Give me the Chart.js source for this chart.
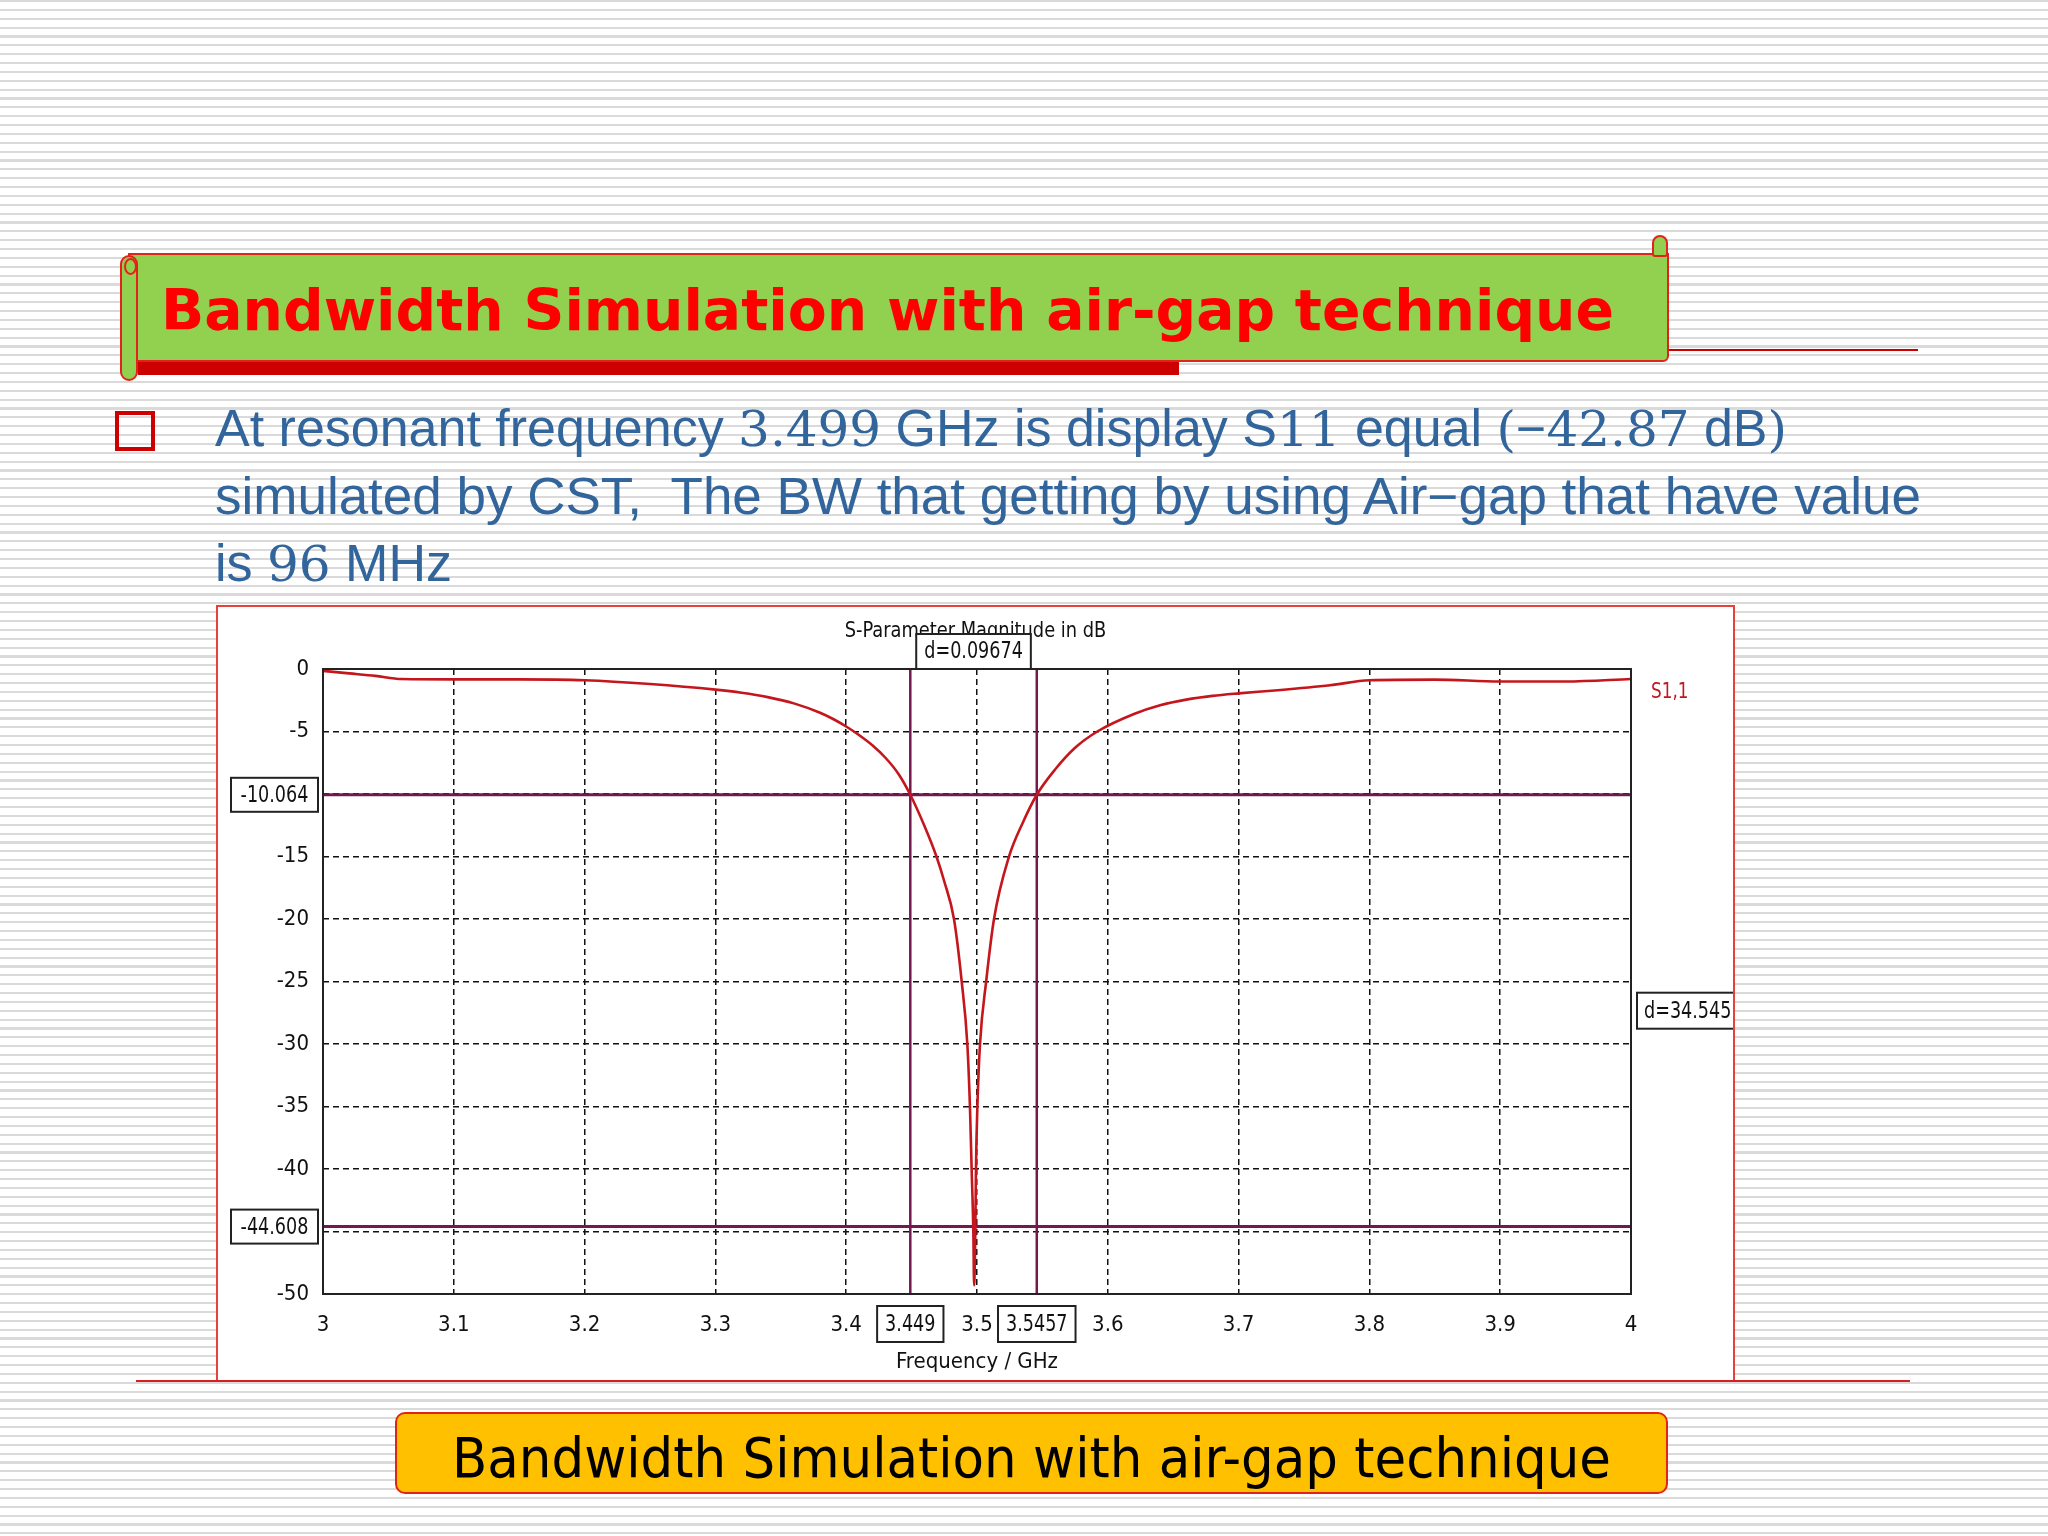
<!DOCTYPE html>
<html>
<head>
<meta charset="utf-8">
<script src="https://cdn.jsdelivr.net/npm/chart.js@4.4.1/dist/chart.umd.min.js"></script>
<style>
html, body { margin: 0; padding: 0; }
body {
  width: 2048px; height: 1536px; position: relative; overflow: hidden;
  background: repeating-linear-gradient(to bottom, #dadada 0px, #dadada 2.2px, #ffffff 2.2px, #ffffff 8.857px);
}
.abs { position: absolute; }
#banner { left: 128px; top: 253px; width: 1537px; height: 105px; background: #92d050; border: 2px solid #e2231a; border-radius: 0 0 6px 0; }
#bannerBar { left: 138px; top: 362px; width: 1041px; height: 13px; background: #cc0000; }
#curlL { left: 120px; top: 255px; width: 14px; height: 122px; background: #92d050; border: 2px solid #e2231a; border-radius: 9px; }
#curlLtop { left: 124px; top: 258px; width: 9px; height: 13px; border: 2px solid #e2231a; border-radius: 50%; }
#curlR { left: 1652px; top: 235px; width: 12px; height: 18px; background: #92d050; border: 2px solid #e2231a; border-radius: 8px 8px 3px 3px; }
#lineTop { left: 1669px; top: 349px; width: 249px; height: 2px; background: #cc0000; }
#title { left: 161px; top: 282px; font: bold 57px 'DejaVu Sans'; line-height: 1; color: #ff0000; white-space: nowrap; transform-origin: 0 0; }
#bullet { left: 115px; top: 411px; width: 32px; height: 32px; border: 4px solid #cc0000; }
.line { left: 215px; font: 51px 'Liberation Sans'; line-height: 60px; color: #31659b; white-space: nowrap; transform-origin: 0 0; }
.num { font: 49px 'DejaVu Serif'; }
#chartBox { left: 216px; top: 605px; width: 1515px; height: 773px; border: 2px solid #e8413a; background: #fff; }
#lineBottom { left: 136px; top: 1380px; width: 1774px; height: 2px; background: #d42020; }
#bottomBox { left: 395px; top: 1412px; width: 1269px; height: 78px; background: #ffc000; border: 2px solid #e2231a; border-radius: 10px; }
#bottomText { left: 452px; top: 1430px; font: 56px 'DejaVu Sans'; line-height: 1; color: #000; white-space: nowrap; transform-origin: 0 0; }
</style>
</head>
<body>
<div class="abs" id="banner"></div>
<div class="abs" id="bannerBar"></div>
<div class="abs" id="curlL"></div>
<div class="abs" id="curlLtop"></div>
<div class="abs" id="curlR"></div>
<div class="abs" id="lineTop"></div>
<div class="abs" id="title" data-w="1453">Bandwidth Simulation with air-gap technique</div>

<div class="abs" id="bullet"></div>
<div class="abs line" style="top:399px" data-w="1572">At resonant frequency <span class="num">3.499</span> GHz is display S<span class="num">11</span> equal <span class="num">(</span>−<span class="num">42.87</span> dB<span class="num">)</span></div>
<div class="abs line" style="top:467px" data-w="1706">simulated by CST,&nbsp; The BW that getting by using Air−gap that have value</div>
<div class="abs line" style="top:534px" data-w="237">is <span class="num">96</span> MHz</div>

<div class="abs" id="chartBox"><canvas id="chart" width="1515" height="773"></canvas></div>
<div class="abs" id="lineBottom"></div>

<div class="abs" id="bottomBox"></div>
<div class="abs" id="bottomText" data-w="1159">Bandwidth Simulation with air-gap technique</div>

<script>
// S1,1 curve
const freqGHz = [3.000, 3.020, 3.040, 3.060, 3.100, 3.150, 3.200, 3.250, 3.300, 3.320, 3.340, 3.360, 3.380, 3.390, 3.400, 3.410, 3.420, 3.430, 3.440, 3.449, 3.460, 3.469, 3.475, 3.4824, 3.4883, 3.4926, 3.4946, 3.4959, 3.4972, 3.4978, 3.4987, 3.4992, 3.5003, 3.5023, 3.507, 3.513, 3.5245, 3.535, 3.5457, 3.560, 3.575, 3.592, 3.620, 3.640, 3.660, 3.680, 3.700, 3.730, 3.770, 3.800, 3.850, 3.900, 3.950, 4.000];
const s11dB = [-0.15, -0.35, -0.55, -0.80, -0.83, -0.83, -0.90, -1.20, -1.65, -1.90, -2.25, -2.75, -3.50, -4.00, -4.60, -5.30, -6.10, -7.10, -8.40, -10.06, -12.6, -15.0, -17.0, -20.0, -25.0, -30.0, -35.0, -40.0, -45.0, -49.3, -45.0, -40.0, -35.0, -30.0, -25.0, -20.0, -15.0, -12.3, -10.06, -8.0, -6.3, -5.0, -3.6, -2.90, -2.45, -2.15, -1.95, -1.70, -1.30, -0.90, -0.85, -1.00, -1.00, -0.80];

// markers
const markerX = [3.449, 3.5457];
const markerY = [-10.064, -44.608];
const deltaXText = 'd=0.09674';
const deltaYText = 'd=34.545';

// axes
const xMin = 3, xMax = 4, xStep = 0.1;
const yMin = -50, yMax = 0, yStep = 5;
const hiddenYTicks = [-10, -45];
const chartTitle = 'S-Parameter Magnitude in dB';
const xTitle = 'Frequency / GHz';
const seriesName = 'S1,1';

const fam = "'Liberation Sans Narrow', 'DejaVu Sans Condensed', 'Liberation Sans', sans-serif";
const curveColor = '#c4161c';
const markerColor = '#74194f';

// fit slide text lines to their widths
document.querySelectorAll('[data-w]').forEach(function (el) {
  var w = parseFloat(el.getAttribute('data-w'));
  var real = el.getBoundingClientRect().width;
  el.style.transform = 'scaleX(' + (w / real) + ')';
});

var curve = freqGHz.map(function (f, i) { return { x: f, y: s11dB[i] }; });

var markerSets = [];
markerX.forEach(function (v) {
  markerSets.push({ data: [{ x: v, y: yMax }, { x: v, y: yMin }], borderColor: markerColor, borderWidth: 2.5, pointRadius: 0 });
});
markerY.forEach(function (v) {
  markerSets.push({ data: [{ x: xMin, y: v }, { x: xMax, y: v }], borderColor: markerColor, borderWidth: 3, pointRadius: 0 });
});

var squeeze = 0.85;
function narrowText(ctx, text, x, y, k) {
  ctx.save();
  ctx.translate(x, y);
  ctx.scale(k || squeeze, 1);
  ctx.fillText(text, 0, 0);
  ctx.restore();
}

// chart title, frame, marker boxes and curve label
const markerPlugin = {
  id: 'markerBoxes',
  beforeDatasetsDraw: function (chart) {
    var ctx = chart.ctx;
    ctx.save();
    ctx.font = '22px ' + fam;
    ctx.fillStyle = '#111';
    ctx.textAlign = 'left';
    ctx.textBaseline = 'middle';
    var tw = ctx.measureText(chartTitle).width * 0.9;
    narrowText(ctx, chartTitle, chart.width / 2 - tw / 2, 24, 0.9);
    ctx.restore();
  },
  afterDraw: function (chart) {
    var ctx = chart.ctx, a = chart.chartArea;
    var xs = chart.scales.x, ys = chart.scales.y;
    ctx.save();
    ctx.setLineDash([]);
    ctx.strokeStyle = '#222';
    ctx.lineWidth = 2;
    ctx.strokeRect(a.left, a.top, a.right - a.left, a.bottom - a.top);

    ctx.font = '23px ' + fam;
    ctx.textBaseline = 'middle';
    function box(left, top, w, h, text, align) {
      ctx.fillStyle = '#fff';
      ctx.fillRect(left, top, w, h);
      ctx.strokeStyle = '#222';
      ctx.lineWidth = 2;
      ctx.strokeRect(left, top, w, h);
      ctx.fillStyle = '#111';
      var tw = ctx.measureText(text).width * squeeze;
      ctx.textAlign = 'left';
      var tx = align === 'left' ? left + 7 : left + (w - tw) / 2;
      narrowText(ctx, text, tx, top + h / 2 + 1);
    }
    markerY.forEach(function (v) {
      var py = ys.getPixelForValue(v);
      box(a.left - 92, py - 17, 87, 34, String(v));
    });
    markerX.forEach(function (v) {
      var px = xs.getPixelForValue(v);
      var w = ctx.measureText(String(v)).width * squeeze + 16;
      box(px - w / 2, a.bottom + 12, w, 36, String(v));
    });
    var midX = (xs.getPixelForValue(markerX[0]) + xs.getPixelForValue(markerX[1])) / 2;
    var wd = ctx.measureText(deltaXText).width * squeeze + 16;
    box(midX - wd / 2, a.top - 35, wd, 35, deltaXText);
    var midY = (ys.getPixelForValue(markerY[0]) + ys.getPixelForValue(markerY[1])) / 2;
    box(a.right + 6, midY - 18, 110, 36, deltaYText, 'left');

    ctx.font = '22px ' + fam;
    ctx.fillStyle = curveColor;
    ctx.textAlign = 'left';
    narrowText(ctx, seriesName, a.right + 20, a.top + 23);
    ctx.restore();
  }
};

new Chart(document.getElementById('chart'), {
  type: 'line',
  data: {
    datasets: [{
      label: seriesName,
      data: curve,
      borderColor: curveColor,
      borderWidth: 2.6,
      pointRadius: 0,
      cubicInterpolationMode: 'monotone'
    }].concat(markerSets)
  },
  options: {
    responsive: false,
    animation: false,
    devicePixelRatio: 1,
    layout: { padding: { top: 62, right: 102, bottom: 0, left: 0 } },
    plugins: {
      legend: { display: false },
      tooltip: { enabled: false },
      title: { display: false }
    },
    scales: {
      x: {
        type: 'linear',
        min: xMin, max: xMax,
        afterFit: function (s) { s.height = 86; },
        grid: { color: '#111', lineWidth: 1.5, drawTicks: false },
        border: { display: false, dash: [6, 4] },
        ticks: {
          stepSize: xStep,
          padding: 18,
          color: '#111',
          font: { family: fam, size: 22 },
          callback: function (v) { return String(Number(v.toFixed(2))); }
        },
        title: {
          display: true,
          text: xTitle,
          color: '#111',
          font: { family: fam, size: 22 },
          padding: { top: 0, bottom: 5 }
        }
      },
      y: {
        min: yMin, max: yMax,
        afterFit: function (s) { s.width = 105; },
        grid: { color: '#111', lineWidth: 1.5, drawTicks: false },
        border: { display: false, dash: [6, 4] },
        ticks: {
          stepSize: yStep,
          padding: 14,
          color: '#111',
          font: { family: fam, size: 22 },
          callback: function (v) { return hiddenYTicks.indexOf(v) >= 0 ? '' : String(v); }
        }
      }
    }
  },
  plugins: [markerPlugin]
});
</script>
</body>
</html>
